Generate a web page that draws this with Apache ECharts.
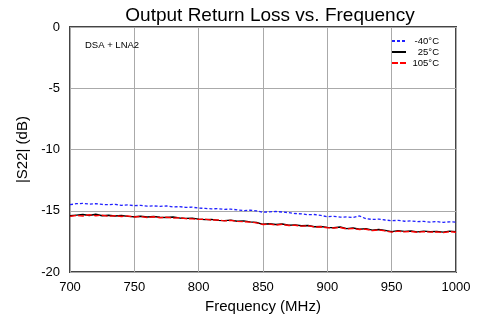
<!DOCTYPE html>
<html>
<head>
    <meta charset="utf-8" />
    <title>Output Return Loss vs. Frequency</title>
    <script src="https://cdn.jsdelivr.net/npm/echarts@6/dist/echarts.min.js"></script>
</head>
<body style="margin:0">
    <div id="chart" style="width:487px;height:319px;"></div>
    <script type="text/javascript">
        var freq = [700,705,710,715,720,725,730,735,740,745,750,755,760,765,770,775,780,785,790,795,
            800,805,810,815,820,825,830,835,840,845,850,855,860,865,870,875,880,885,890,895,
            900,905,910,915,920,925,930,935,940,945,950,955,960,965,970,975,980,985,990,995,1000];
        var m40 = [-14.50,-14.42,-14.40,-14.45,-14.42,-14.48,-14.50,-14.47,-14.55,-14.52,
            -14.58,-14.55,-14.62,-14.60,-14.64,-14.60,-14.68,-14.66,-14.72,-14.70,
            -14.78,-14.80,-14.84,-14.82,-14.88,-14.86,-14.92,-14.98,-14.95,-15.00,
            -15.12,-15.08,-15.05,-15.10,-15.15,-15.22,-15.25,-15.32,-15.30,-15.38,
            -15.48,-15.45,-15.52,-15.50,-15.55,-15.42,-15.65,-15.70,-15.68,-15.75,
            -15.80,-15.78,-15.85,-15.82,-15.88,-15.86,-15.92,-15.88,-15.94,-15.90,-15.92];
        var p25 = [-15.40,-15.35,-15.30,-15.38,-15.28,-15.40,-15.36,-15.42,-15.38,-15.45,
            -15.48,-15.44,-15.50,-15.46,-15.52,-15.55,-15.50,-15.58,-15.62,-15.60,
            -15.68,-15.72,-15.70,-15.78,-15.80,-15.76,-15.85,-15.82,-15.90,-15.95,
            -16.10,-16.05,-16.12,-16.08,-16.18,-16.15,-16.22,-16.20,-16.30,-16.28,
            -16.35,-16.38,-16.32,-16.45,-16.40,-16.50,-16.45,-16.58,-16.52,-16.60,
            -16.70,-16.62,-16.68,-16.65,-16.72,-16.66,-16.70,-16.68,-16.74,-16.66,-16.70];
        var p105 = [-15.45,-15.38,-15.42,-15.32,-15.40,-15.36,-15.44,-15.40,-15.46,-15.42,
            -15.50,-15.46,-15.54,-15.48,-15.56,-15.52,-15.60,-15.56,-15.64,-15.66,
            -15.70,-15.68,-15.75,-15.74,-15.82,-15.78,-15.86,-15.88,-15.92,-15.98,
            -16.12,-16.08,-16.16,-16.10,-16.20,-16.18,-16.25,-16.22,-16.32,-16.30,
            -16.38,-16.40,-16.36,-16.48,-16.44,-16.52,-16.50,-16.62,-16.55,-16.64,
            -16.74,-16.66,-16.72,-16.68,-16.75,-16.70,-16.74,-16.72,-16.78,-16.70,-16.75];
        var seriesNames = ['-40\u00b0C', '25\u00b0C', '105\u00b0C'];

        function pairs(ys) {
            return freq.map(function (f, i) { return [f, ys[i]]; });
        }

        var chart = echarts.init(document.getElementById('chart'));
        var option = {
            animation: false,
            backgroundColor: '#fff',
            textStyle: { fontFamily: 'Liberation Sans, Arial, sans-serif' },
            title: [{
                text: 'Output Return Loss vs. Frequency',
                left: 265, top: 1, textAlign: 'center',
                textStyle: { fontSize: 19, fontWeight: 'normal', color: '#000' }
            }, {
                text: 'DSA + LNA2',
                left: 80, top: 35,
                textStyle: { fontSize: 9.5, fontWeight: 'normal', color: '#000' }
            }],
            legend: {
                data: seriesNames,
                orient: 'vertical',
                right: 43, top: 31,
                itemGap: 1,
                itemWidth: 14, itemHeight: 8.5,
                align: 'left',
                itemStyle: { opacity: 0 },
                formatter: function (n) { return '{t|' + n + '}'; },
                textStyle: {
                    fontSize: 9.5, color: '#000',
                    rich: { t: { width: 28, align: 'right', fontSize: 9.5 } }
                }
            },
            grid: {
                left: 70, right: 31, top: 27, bottom: 46,
                show: true, borderColor: '#444', borderWidth: 2
            },
            xAxis: {
                type: 'value', min: 700, max: 1000, interval: 50,
                name: 'Frequency (MHz)', nameLocation: 'middle', nameGap: 23,
                nameTextStyle: { fontSize: 15, color: '#000' },
                axisLine: { show: false },
                axisTick: { show: false },
                axisLabel: { fontSize: 13, color: '#000', margin: 9, formatter: function (v) { return String(v); } },
                splitLine: { lineStyle: { color: '#aaa', width: 1 } }
            },
            yAxis: {
                type: 'value', min: -20, max: 0, interval: 5,
                name: '|S22| (dB)', nameLocation: 'middle', nameGap: 38,
                nameTextStyle: { fontSize: 15, color: '#000' },
                axisLine: { show: false },
                axisTick: { show: false },
                axisLabel: { fontSize: 13, color: '#000', margin: 10 },
                splitLine: { lineStyle: { color: '#aaa', width: 1 } }
            },
            series: [{
                name: seriesNames[0], type: 'line', symbol: 'none',
                color: '#2020ff',
                lineStyle: { width: 1.3, type: [3, 2] },
                data: pairs(m40)
            }, {
                name: seriesNames[1], type: 'line', symbol: 'none',
                color: '#000',
                lineStyle: { width: 1.4, type: 'solid' },
                data: pairs(p25)
            }, {
                name: seriesNames[2], type: 'line', symbol: 'none',
                color: '#ff0000',
                lineStyle: { width: 1.4, type: [6, 2] },
                data: pairs(p105)
            }]
        };
        chart.setOption(option, true);
    </script>
</body>
</html>
